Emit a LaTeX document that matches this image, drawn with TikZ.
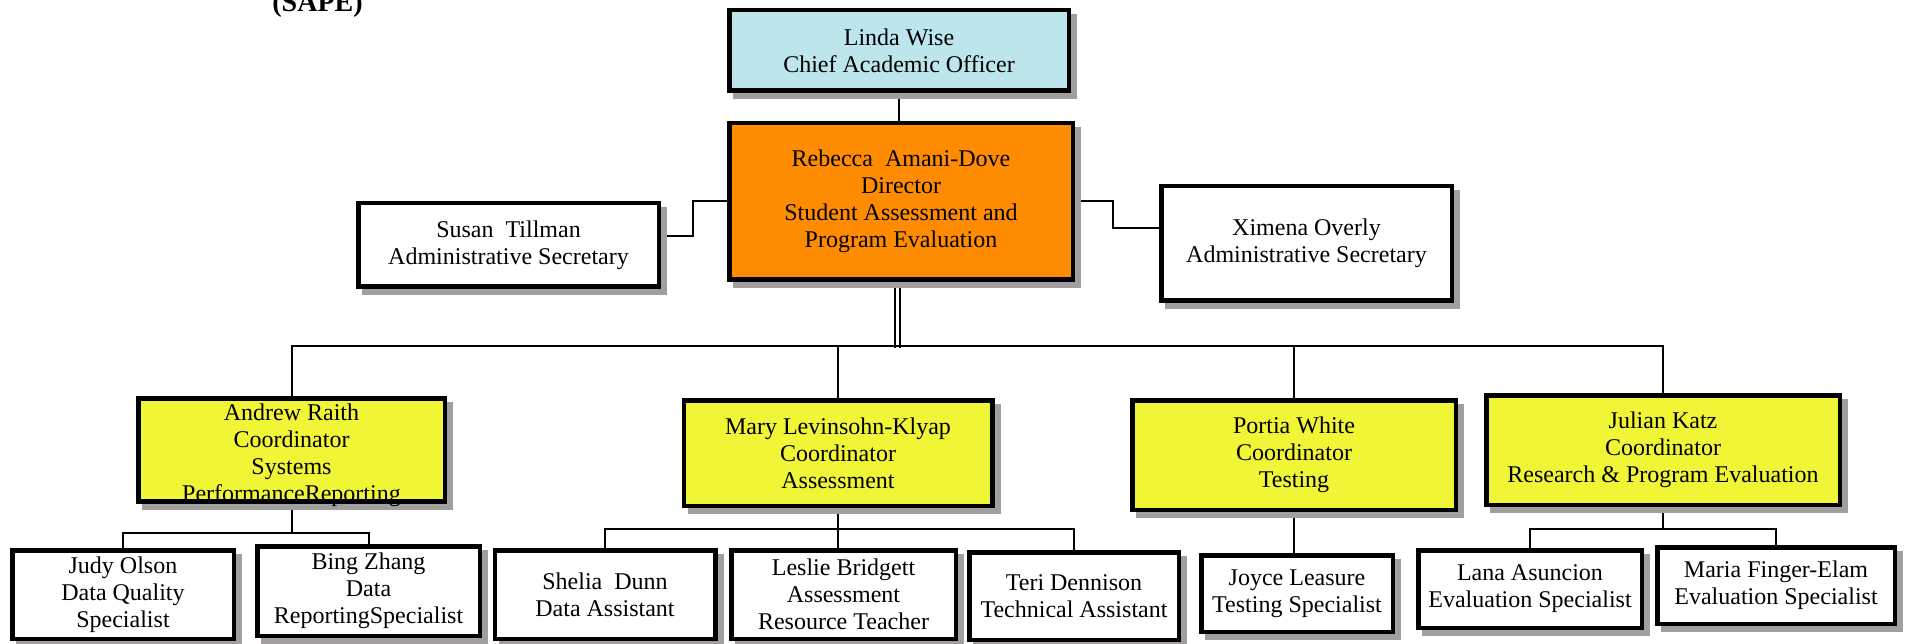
\documentclass[tikz,border=0pt]{standalone}
\usepackage{fontspec}
\setmainfont{Liberation Serif}
\usetikzlibrary{shadows,backgrounds}

\definecolor{shadowgray}{HTML}{A39E9E}
\definecolor{chiefblue}{HTML}{BDE6EC}
\definecolor{directororange}{HTML}{FF8C00}
\definecolor{coordyellow}{HTML}{F0F535}

\begin{document}
\begin{tikzpicture}[x=1pt, y=-1pt,
    box/.style={draw, line width=4.5pt, align=center, inner xsep=2pt, inner ysep=1pt,
      font=\fontsize{24}{27}\selectfont,
      drop shadow={shadow xshift=6pt, shadow yshift=-6pt, fill=shadowgray, draw=shadowgray, opacity=1}},
    coord/.style={box, fill=coordyellow},
    staff/.style={box, fill=white},
    link/.style={line width=2pt},
    dbl/.style={double, double distance=3pt, line width=2pt}]
             \useasboundingbox (0,0) rectangle (1909,644);
             \node[font=\bfseries\fontsize{28}{30}\selectfont, anchor=base] (title) at (317.5, 12) {(SAPE)};

             \node[box, fill=chiefblue, minimum width=339.5pt, minimum height=80.5pt] (linda) at (899, 50.5) {Linda Wise\\Chief Academic Officer};
             \node[box, fill=directororange, minimum width=343.5pt, minimum height=156.5pt] (rebecca) at (901, 201.5) {Rebecca~ Amani-Dove\\Director\\Student Assessment and\\Program Evaluation};
             \node[staff, minimum width=300.5pt, minimum height=83.5pt] (susan) at (508.5, 245) {Susan~ Tillman\\Administrative Secretary};
             \node[staff, minimum width=290.5pt, minimum height=114.5pt] (ximena) at (1306.5, 243.5) {Ximena Overly\\Administrative Secretary};

             \node[coord, minimum width=306.5pt, inner ysep=0pt, text height=103pt, text depth=0pt] (andrew) at (291.5, 450) {Andrew Raith\\Coordinator\\Systems\\PerformanceReporting};
             \node[coord, minimum width=308.5pt, minimum height=105.5pt] (mary) at (838, 453) {Mary Levinsohn-Klyap\\Coordinator\\Assessment};
             \node[coord, minimum width=323.5pt, minimum height=109.5pt] (portia) at (1294, 455) {Portia White\\Coordinator\\Testing};
             \node[coord, minimum width=353.5pt, minimum height=109.5pt] (julian) at (1663, 450) {Julian Katz\\Coordinator\\Research \& Program Evaluation};

             \node[staff, minimum width=221.5pt, minimum height=88.5pt] (judy) at (123, 594.5) {Judy Olson\\Data Quality\\Specialist};
             \node[staff, minimum width=222.5pt, minimum height=89.5pt] (bing) at (368.5, 591) {Bing Zhang\\Data\\ReportingSpecialist};
             \node[staff, minimum width=220.5pt, minimum height=88.5pt] (shelia) at (605, 594.5) {Shelia~ Dunn\\Data Assistant};
             \node[staff, minimum width=224.5pt, minimum height=88.5pt] (leslie) at (843.5, 594.5) {Leslie Bridgett\\Assessment\\Resource Teacher};
             \node[staff, minimum width=209.5pt, minimum height=87.5pt] (teri) at (1074, 596) {Teri Dennison\\Technical Assistant};
             \node[staff, minimum width=191.5pt, minimum height=76.5pt] (joyce) at (1297, 593.5) {Joyce Leasure\\Testing Specialist};
             \node[staff, minimum width=223.5pt, minimum height=77.5pt] (lana) at (1530, 589) {Lana Asuncion\\Evaluation Specialist};
             \node[staff, minimum width=237.5pt, minimum height=76.5pt] (maria) at (1776, 585.5) {Maria Finger-Elam\\Evaluation Specialist};

             \coordinate (bus) at (897.5, 346);
             \coordinate (systemsfork) at (291.5, 533);
             \coordinate (assessfork) at (838, 529);
             \coordinate (researchfork) at (1663, 529);

             \begin{scope}[on background layer]
             \draw[link] (linda.south) -- (linda.south |- rebecca.north);
             \draw[link] ([yshift=9pt]susan.east) -- ++(32,0) |- (rebecca.west);
             \draw[link] (rebecca.east) -- ++(38,0) |- ([yshift=15pt]ximena.west);

             \draw[dbl] ([xshift=-3.5pt]rebecca.south) -- ([yshift=-2pt]bus);
             \draw[link] (andrew.north) |- (bus) -| (julian.north);
             \draw[link] (mary.north) |- (bus);
             \draw[link] (portia.north) |- (bus);

             \draw[link] (andrew.south) -- (systemsfork);
             \draw[link] (judy.north) |- (systemsfork) -| (bing.north);

             \draw[link] (mary.south) -- (assessfork);
             \draw[link] (shelia.north) |- (assessfork) -| (teri.north);
             \draw[link] (assessfork) -- (assessfork |- leslie.north);

             \draw[link] (portia.south) -- (portia.south |- joyce.north);

             \draw[link] (julian.south) -- (researchfork);
             \draw[link] (lana.north) |- (researchfork) -| (maria.north);
             \end{scope}
\end{tikzpicture}
\end{document}
